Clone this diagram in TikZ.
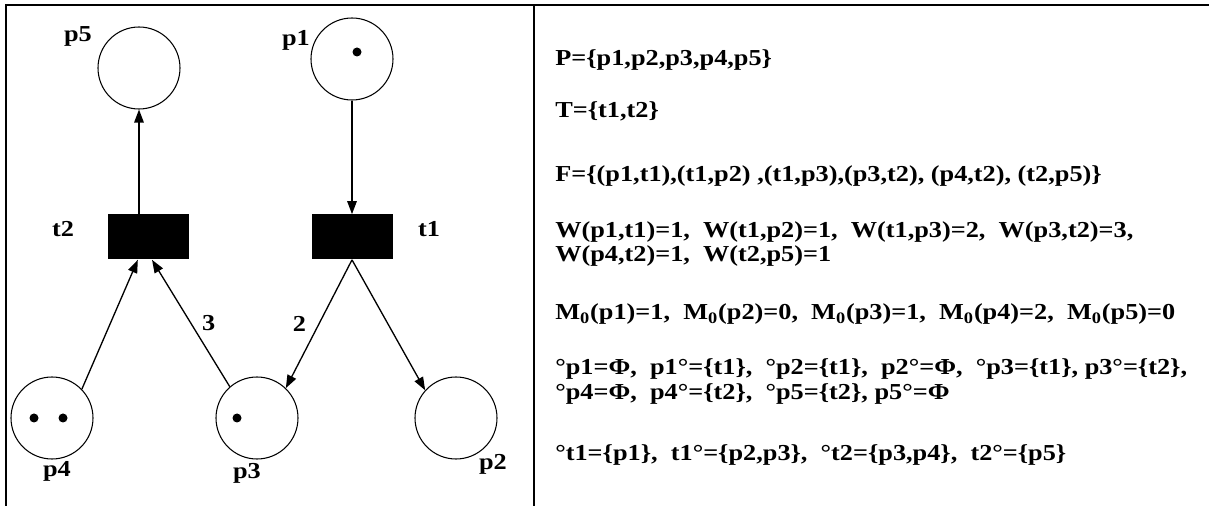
\documentclass[tikz,border=0pt]{standalone}
\usepackage{fontspec}
\setmainfont{Liberation Serif}[FakeStretch=1.15]
\usetikzlibrary{arrows.meta}

\begin{document}
\begin{tikzpicture}[x=0.2mm,y=-0.2mm,
  place/.style={circle,draw,line width=0.6pt,minimum size=16.4mm,inner sep=0pt},
  trans/.style={rectangle,fill=black,minimum width=16.2mm,minimum height=9mm,inner sep=0pt},
  token/.style={circle,fill=black,minimum size=1.8mm,inner sep=0pt},
  lbl/.style={font=\bfseries\fontsize{13}{15}\selectfont,inner sep=0pt,anchor=base},
  arc/.style={-{Triangle[length=2.6mm,width=1.9mm]},line width=0.75pt},
  defn/.style={font=\bfseries\fontsize{13}{15}\selectfont,inner sep=0pt,anchor=base west},
  frame/.style={line width=1pt}
]
\useasboundingbox (0,0) rectangle (1209,506);

% Frame of the two panels.
\draw[frame] (6,506) -- (6,5) -- (534,5);
\draw[frame,line width=1.5pt] (534,5) -- (1209,5);
\draw[frame] (534,5) -- (534,506);

% Places and transitions.
\node[place] (p5) at (139,68) {};
\node[place] (p1) at (352,59) {};
\node[trans] (t2) at (148,237) {};
\node[trans] (t1) at (352,237) {};
\node[place] (p4) at (52,418) {};
\node[place] (p3) at (257,418) {};
\node[place] (p2) at (456,418) {};

% Tokens of M0.
\node[token] (k1) at (357,52) {};
\node[token] (k41) at (34,418) {};
\node[token] (k42) at (63,418) {};
\node[token] (k3) at (237,418) {};

% Names.
\node[lbl] (l5) at (78,42) {p5};
\node[lbl] (l1) at (296,46) {p1};
\node[lbl] (lt2) at (63,237) {t2};
\node[lbl] (lt1) at (429,237) {t1};
\node[lbl] (l4) at (57,477) {p4};
\node[lbl] (l3) at (247,479) {p3};
\node[lbl] (l2) at (493,469) {p2};

% Arcs with their weights.
\draw[arc] (p1) -- (t1);
\draw[arc] (t2.north -| p5) -- (p5);
\draw[arc] (p4.44) -- (t2.-114);
\draw[arc] (p3.131) -- node[midway,right=6pt,lbl,anchor=west]{3} (t2.-80);
\draw[arc] (t1.south) -- node[midway,left=7pt,lbl,anchor=east]{2} (p3.46);
\draw[arc] (t1.south) -- (p2.138);

% Definition of the net.
\node[defn] (dP) at (555,66) {P=\{p1,p2,p3,p4,p5\}};
\node[defn] (dT) at (555,118) {T=\{t1,t2\}};
\node[defn] (dF) at (555,182) {F=\{(p1,t1),(t1,p2) ,(t1,p3),(p3,t2), (p4,t2), (t2,p5)\}};
\node[defn] (dW1) at (555,238) {W(p1,t1)=1,~ W(t1,p2)=1,~ W(t1,p3)=2,~ W(p3,t2)=3,};
\node[defn] (dW2) at (555,262) {W(p4,t2)=1,~ W(t2,p5)=1};
\node[defn] (dM) at (555,320) {M\textsubscript{0}(p1)=1,~ M\textsubscript{0}(p2)=0,~ M\textsubscript{0}(p3)=1,~ M\textsubscript{0}(p4)=2,~ M\textsubscript{0}(p5)=0};
\node[defn] (dO1) at (555,375) {°p1=Φ,~ p1°=\{t1\},~ °p2=\{t1\},~ p2°=Φ,~ °p3=\{t1\}, p3°=\{t2\},};
\node[defn] (dO2) at (555,400) {°p4=Φ,~ p4°=\{t2\},~ °p5=\{t2\}, p5°=Φ};
\node[defn] (dO3) at (555,460) {°t1=\{p1\},~ t1°=\{p2,p3\},~ °t2=\{p3,p4\},~ t2°=\{p5\}};
\end{tikzpicture}
\end{document}
